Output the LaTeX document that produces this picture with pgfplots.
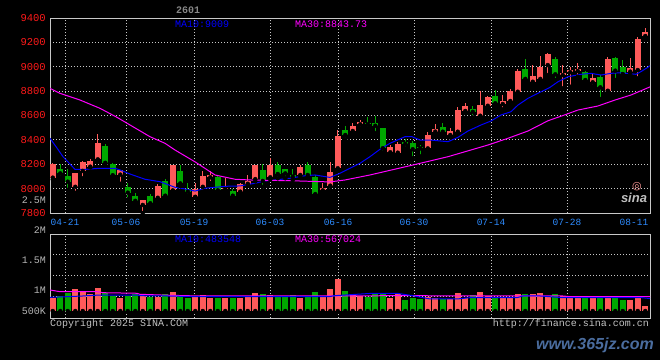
\documentclass[border=0pt]{standalone}
\usepackage{fontspec}
\setmainfont{Liberation Sans}
\setmonofont{Liberation Mono}
\newfontfamily\djv{DejaVu Sans}
\usepackage{pgfplots}
\pgfplotsset{compat=1.18}
\usepackage{pgfplotstable}
\definecolor{cred}{HTML}{FF5A5A}
\definecolor{cgreen}{HTML}{00A800}
\definecolor{cframe}{HTML}{C8C8C8}
\definecolor{cgrid}{HTML}{C8C8C8}
\definecolor{clab}{HTML}{FF1A1A}
\definecolor{cdate}{HTML}{2E8CFF}
\definecolor{cgray}{HTML}{B4B4B4}
\definecolor{cblue}{HTML}{0000FF}
\definecolor{cmag}{HTML}{FF00FF}
\definecolor{wmfill}{HTML}{4A6C9E}

\pgfplotstableread{
j O H L C V
0 8090 8210 8075 8200 461
3 8015 8130 7965 8125 672
4 8145 8225 8085 8220 623
5 8180 8240 8175 8228 550
6 8240 8445 8230 8378 696
9 8115 8155 8040 8150 461
12 7866 7910 7800 7907 494
14 7925 8035 7895 8022 485
16 7985 8195 7980 8190 599
19 7933 8043 7930 7995 509
20 8015 8145 7975 8105 526
21 8093 8145 8045 8112 461
23 7995 8085 7980 8008 461
25 7975 8045 7970 8037 461
26 8040 8112 8030 8060 509
27 8078 8195 8060 8190 575
29 8093 8250 8075 8194 526
33 8112 8190 8100 8176 446
36 7985 8045 7968 8008 485
37 8024 8220 8015 8139 672
38 8167 8480 8155 8432 915
40 8473 8540 8455 8516 526
41 8528 8563 8495 8544 509
45 8298 8358 8276 8344 461
46 8295 8385 8285 8363 543
50 8330 8465 8315 8440 485
51 8468 8530 8445 8487 461
53 8440 8495 8420 8473 429
54 8467 8667 8455 8645 582
55 8637 8700 8618 8680 446
57 8598 8803 8590 8686 599
58 8680 8760 8650 8754 509
60 8694 8768 8651 8721 446
61 8719 8815 8705 8801 461
62 8795 8979 8776 8965 550
64 8877 9015 8858 8925 550
65 8900 9088 8885 9000 582
66 9014 9110 8932 9105 502
68 8932 9014 8823 8951 509
69 8955 9000 8836 8973 485
70 8965 9030 8918 8979 485
72 8873 8950 8840 8910 446
74 8803 9078 8800 9064 446
77 8960 9070 8950 8987 405
78 8973 9242 8905 9227 485
79 9252 9315 9240 9288 259
}\redtab

\pgfplotstableread{
j O H L C V
1 8165 8200 8090 8125 502
2 8105 8160 7990 8057 582
7 8350 8365 8200 8212 582
8 8200 8210 8100 8110 509
10 8015 8045 7912 7967 494
11 7940 7965 7875 7900 550
13 7940 7960 7860 7880 485
15 8063 8080 7935 7942 550
17 8145 8195 8020 8043 502
18 7995 8045 7940 7975 461
22 8098 8105 7980 7985 461
24 7980 8000 7915 7942 461
28 8153 8200 8015 8063 550
30 8190 8215 8085 8120 509
31 8160 8165 8085 8125 470
32 8112 8165 8070 8098 526
34 8194 8220 8085 8112 502
35 8092 8112 7948 7955 599
39 8481 8515 8405 8440 623
42 8537 8590 8495 8527 485
43 8540 8595 8455 8516 550
44 8495 8500 8295 8331 558
47 8385 8405 8330 8368 405
48 8372 8390 8250 8323 461
49 8340 8362 8265 8330 429
52 8503 8540 8445 8467 429
56 8655 8680 8585 8630 526
59 8762 8809 8672 8700 461
63 8982 9064 8890 8900 550
67 9064 9078 8891 8938 550
71 8960 8968 8860 8891 446
73 8918 8932 8735 8831 470
75 9070 9082 8891 8968 446
76 9000 9055 8915 8940 405
}\greentab

\pgfplotsset{
  candle/.style={forget plot, only marks, mark=none,
    error bars/.cd, y dir=plus, y explicit, error mark=none,
    error bar style={draw=#1, line width=5.8pt, line cap=butt}},
  wick/.style={forget plot, only marks, mark=none,
    error bars/.cd, y dir=plus, y explicit, error mark=none,
    error bar style={draw=#1, line width=1pt, line cap=butt}},
}

\begin{document}
\begin{tikzpicture}[x=1pt,y=1pt]
\fill[black] (0,0) rectangle (660,360);
\useasboundingbox (0,0) rectangle (660,360);

% ---------- price panel ----------
\begin{axis}[
  at={(50pt,147pt)}, anchor=south west,
  width=600pt, height=195pt, scale only axis,
  xmin=-0.373, xmax=79.63, ymin=7800, ymax=9400,
  axis line style={cframe, line width=1pt},
  xtick={1.627,9.76,18.83,28.96,38.03,48.16,58.43,68.56},
  xticklabels={04-21,05-06,05-19,06-03,06-16,06-30,07-14,07-28},
  extra x ticks={77.49}, extra x tick labels={08-11},
  extra x tick style={grid=none},
  ytick={7800,8000,8200,8400,8600,8800,9000,9200,9400},
  yticklabels={7800,8000,8200,8400,8600,8800,9000,9200,9400},
  scaled y ticks=false,
  major tick length=0pt,
  grid=major,
  major grid style={cgrid, line width=0.8pt, dash pattern=on 1pt off 2pt},
  xticklabel style={font=\ttfamily\fontsize{9.5}{10}\selectfont, text=cdate, anchor=center, inner sep=0pt, yshift=-9pt},
  yticklabel style={font=\ttfamily\fontsize{10.5}{10}\selectfont, text=clab, anchor=east, inner sep=0pt, xshift=-4pt},
]
\addplot[wick=cred] table[x=j, y=L, y error plus expr=\thisrow{H}-\thisrow{L}] {\redtab};
\addplot[candle=cred] table[x=j, y=O, y error plus expr=\thisrow{C}-\thisrow{O}] {\redtab};
\addplot[wick=cgreen] table[x=j, y=L, y error plus expr=\thisrow{H}-\thisrow{L}] {\greentab};
\addplot[candle=cgreen] table[x=j, y=C, y error plus expr=\thisrow{O}-\thisrow{C}] {\greentab};

% MA10
\addplot[cblue, line width=1pt, mark=none] coordinates {
(-0.37,8413) (0.56,8333) (1.36,8262) (2.29,8202) (2.96,8158) (4.29,8158) (6.29,8167) (8.29,8167) (8.96,8153) (10.29,8120) (12.29,8077) (14.29,8057) (16.29,8011) (17.63,7997) (18.96,7980) (20.29,8003) (21.63,8011) (22.96,8019) (24.96,8022) (26.96,8044) (28.29,8063) (29.63,8071) (31.63,8085) (33.63,8106) (34.96,8112) (36.96,8092) (38.29,8126) (39.63,8167) (40.96,8208) (42.29,8262) (43.63,8323) (44.96,8372) (46.96,8426) (47.9,8426) (48.96,8399) (50.29,8399) (52.69,8385) (54.03,8421) (55.36,8473) (57.09,8522) (58.43,8555) (59.76,8604) (61.09,8631) (62.03,8686) (63.36,8741) (64.69,8782) (66.29,8831) (67.36,8877) (68.69,8918) (70.43,8938) (71.76,8946) (73.09,8932) (74.43,8946) (75.76,8951) (77.76,8938) (78.43,8960) (79.36,8996) (79.63,9009)
};
% MA30
\addplot[cmag, line width=1pt, mark=none] coordinates {
(-0.37,8823) (0.96,8782) (3.63,8727) (6.29,8659) (8.56,8585) (10.69,8508) (12.96,8426) (14.96,8372) (16.29,8317) (18.96,8220) (21.63,8112) (24.29,8077) (26.29,8071) (31.63,8065) (36.96,8055) (38.96,8071) (42.29,8112) (48.03,8194) (52.69,8262) (58.03,8358) (60.69,8413) (63.36,8473) (66.03,8557) (68.03,8600) (70.03,8645) (72.69,8678) (74.96,8727) (77.09,8768) (79.63,8835)
};
\end{axis}

% ---------- volume panel ----------
\begin{axis}[
  at={(50pt,41.7pt)}, anchor=south west,
  width=600pt, height=84pt, scale only axis,
  xmin=-0.373, xmax=79.63, ymin=-40, ymax=2000,
  axis line style={cframe, line width=1pt},
  xtick={1.627,9.76,18.83,28.96,38.03,48.16,58.43,68.56},
  xticklabels={},
  ytick={500,1000,1500}, yticklabels={},
  scaled y ticks=false,
  major tick length=0pt,
  grid=major,
  major grid style={cgrid, line width=0.8pt, dash pattern=on 1pt off 2pt},
]
\addplot[candle=cred] table[x=j, y expr=137, y error plus expr=\thisrow{V}-137] {\redtab};
\addplot[candle=cgreen] table[x=j, y expr=137, y error plus expr=\thisrow{V}-137] {\greentab};
% volume MA30
\addplot[cmag, line width=1pt, mark=none] coordinates {
(-0.37,648) (0.96,606) (5.9,606) (6.7,582) (11.2,568) (11.6,543) (15.6,519) (19.6,502) (37,505) (46.3,509) (68,502) (69,485) (79.63,485)
};
% volume MA10
\addplot[cblue, line width=1pt, mark=none] coordinates {
(-0.37,470) (1.9,485) (4,502) (6.3,526) (11.2,526) (11.6,509) (15.2,502) (19.6,485) (36.9,485) (37.5,509) (42.7,568) (45.9,568) (48,509) (50.3,429) (53.9,429) (55.6,461) (61.9,461) (62.7,502) (65,502) (68,461) (78.5,461) (79.63,440)
};
\end{axis}

% ---------- texts ----------
\tikzset{lab/.style={inner sep=0pt, font=\ttfamily\fontsize{10}{10}\selectfont}}
\node[lab, text=cgray!75!black, font=\ttfamily\bfseries\fontsize{10}{10}\selectfont] at (188,350) {2601};
\node[lab, anchor=west, text=cblue] at (175,336) {MA10:9009};
\node[lab, anchor=west, text=cmag] at (295,336) {MA30:8843.73};
\node[lab, anchor=west, text=cblue] at (175,121) {MA10:483548};
\node[lab, anchor=west, text=cmag] at (295,121) {MA30:567024};
\node[lab, anchor=east, text=cgray] at (46,160) {2.5M};
\node[lab, anchor=east, text=cgray] at (46,130) {2M};
\node[lab, anchor=east, text=cgray] at (46,100) {1.5M};
\node[lab, anchor=east, text=cgray] at (46,70) {1M};
\node[lab, anchor=east, text=cgray] at (46,49) {500K};
\node[lab, anchor=west, text=cgray!80] at (50,36.3) {Copyright 2025 SINA.COM};
\node[lab, anchor=east, text=cgray!80] at (649,36) {http://finance.sina.com.cn};
% sina logo
\node[inner sep=0pt, text=cgray!85, font=\bfseries\itshape\fontsize{13}{13}\selectfont] at (634,162) {sina};
\node[inner sep=0pt, text=pink!80!red, font=\djv\fontsize{11}{11}\selectfont] at (637,173) {◎};
% watermark
\node[inner sep=0pt, text=wmfill, font=\bfseries\itshape\fontsize{16}{16}\selectfont] at (595,15) {www.365jz.com};
\end{tikzpicture}
\end{document}
